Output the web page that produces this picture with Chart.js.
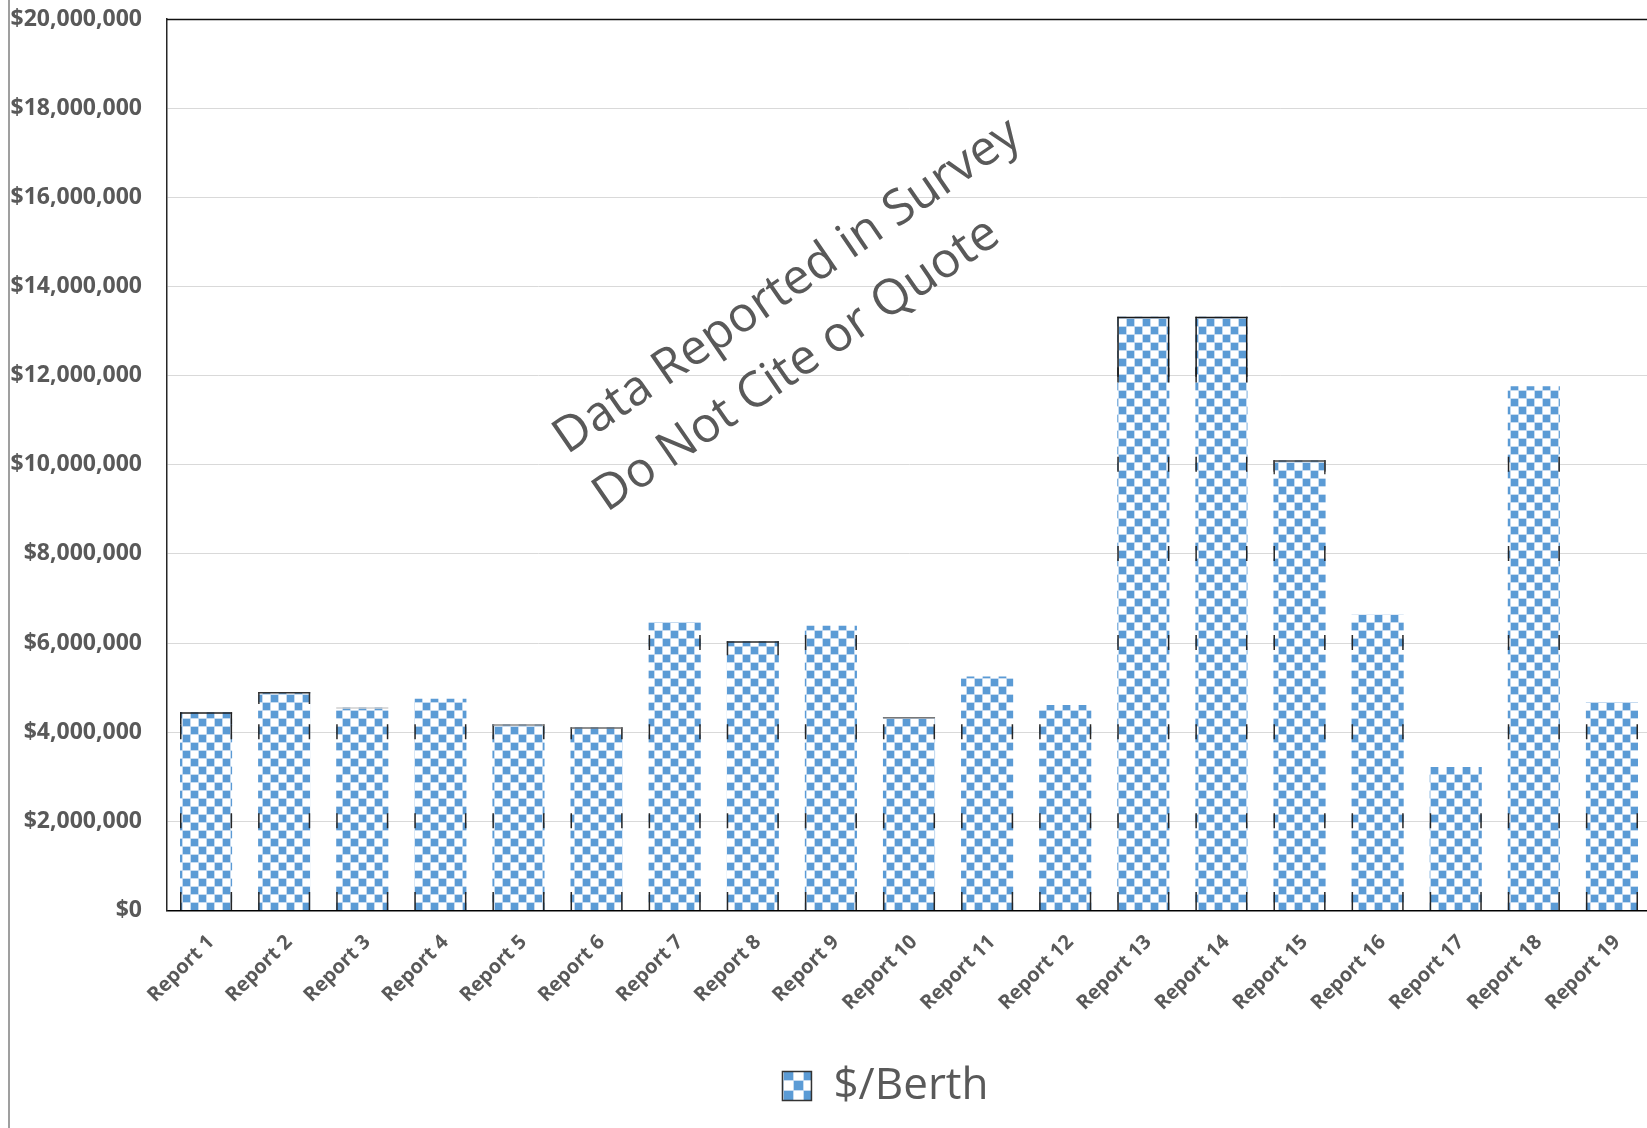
<!DOCTYPE html>
<html>
<head>
<meta charset="utf-8">
<script src="https://cdn.jsdelivr.net/npm/chart.js@4.4.1/dist/chart.umd.min.js"></script>
<style>
  html, body { margin: 0; padding: 0; background: #fff; overflow: hidden; }
  #wrap { position: relative; width: 1652px; height: 1128px; }
</style>
</head>
<body>
<div id="wrap"><canvas id="c" width="1652" height="1128"></canvas></div>
<script>
// ---- data ----
const categories = [
  'Report 1', 'Report 2', 'Report 3', 'Report 4', 'Report 5', 'Report 6', 'Report 7',
  'Report 8', 'Report 9', 'Report 10', 'Report 11', 'Report 12', 'Report 13', 'Report 14',
  'Report 15', 'Report 16', 'Report 17', 'Report 18', 'Report 19'
];
const berthCost = [
  4450000, 4900000, 4560000, 4750000, 4180000, 4110000, 6470000,
  6040000, 6390000, 4340000, 5250000, 4610000, 13320000, 13320000,
  10100000, 6640000, 3220000, 11760000, 4680000
];
const seriesName = '$/Berth';
const yMin = 0;
const yMax = 20000000;
const yStep = 2000000;
const watermarkLines = ['Data Reported in Survey', 'Do Not Cite or Quote'];

// ---- per-bar outline styling (top edge colour and how far its corners run down) ----
const topEdgeColor = ['#1f1f1f', '#333', '#cfcfcf', null, '#8a8a8a', '#6a6a6a', null,
  '#2a2a2a', null, '#777', null, null, '#1a1a1a', '#1a1a1a', '#444', null, null, null, null];
const topCornerRun = [12, 12, 0, 0, 0, 0, 0, 14, 0, 0, 0, 0, 60, 60, 14, 0, 0, 0, 0];

const canvas = document.getElementById('c');
const ctx = canvas.getContext('2d');

// checkerboard fill in the Office blue
function makeChecker(cell, ox, oy) {
  const size = cell * 2;
  const t = document.createElement('canvas');
  t.width = size; t.height = size;
  const g = t.getContext('2d');
  g.fillStyle = '#ffffff';
  g.fillRect(0, 0, size, size);
  g.fillStyle = '#c6dbf0';
  g.fillRect(0, cell - 1, size, 1);
  g.fillRect(0, size - 1, size, 1);
  g.fillRect(cell - 1, 0, 1, size);
  g.fillRect(size - 1, 0, 1, size);
  g.fillStyle = '#5b9bd5';
  g.fillRect(0, 0, cell - 1, cell - 1);
  g.fillRect(cell, cell, cell - 1, cell - 1);
  const p = ctx.createPattern(t, 'repeat');
  if (p.setTransform) p.setTransform(new DOMMatrix().translate(ox, oy));
  return p;
}
const barFill = makeChecker(8, 15, 7);
const legendFill = makeChecker(10, 784, 1071);

const FONT = "'Open Sans', 'Noto Sans', 'DejaVu Sans', sans-serif";
const TEXT_GREY = '#595959';

// background, outer frame line and plot-area top edge
const framePlugin = {
  id: 'frame',
  beforeDraw(chart) {
    const c = chart.ctx;
    c.save();
    c.fillStyle = '#ffffff';
    c.fillRect(0, 0, chart.width, chart.height);
    c.strokeStyle = '#7f7f7f';
    c.lineWidth = 1.5;
    c.beginPath();
    c.moveTo(9, 0);
    c.lineTo(9, chart.height);
    c.stroke();
    c.restore();
  },
  afterDraw(chart) {
    const a = chart.chartArea;
    const c = chart.ctx;
    c.save();
    c.strokeStyle = '#111';
    c.lineWidth = 1.3;
    c.beginPath();
    c.moveTo(a.left, a.top + 0.5);
    c.lineTo(a.right, a.top + 0.5);
    c.stroke();
    c.restore();
  }
};

// broken dark outline on the bars
const barEdgePlugin = {
  id: 'barEdges',
  afterDatasetsDraw(chart) {
    const c = chart.ctx;
    const ys = chart.scales.y;
    const grid = ys.ticks.map(t => ys.getPixelForValue(t.value));
    const meta = chart.getDatasetMeta(0);
    c.save();
    c.lineWidth = 1.5;
    meta.data.forEach((bar, i) => {
      const { x, y, base, width } = bar.getProps(['x', 'y', 'base', 'width'], true);
      const l = x - width / 2 + 0.75;
      const r = x + width / 2 - 0.75;
      const seg = (y0, y1, col) => {
        c.strokeStyle = col;
        c.beginPath();
        c.moveTo(l, y0); c.lineTo(l, y1);
        c.moveTo(r, y0); c.lineTo(r, y1);
        c.stroke();
      };
      grid.forEach(p => {
        if (p > y + 2 && p < base - 2) seg(Math.max(y, p - 8), Math.min(base, p + 7), '#262626');
      });
      seg(base - 18, base, '#262626');
      if (topEdgeColor[i]) {
        c.strokeStyle = topEdgeColor[i];
        c.beginPath();
        c.moveTo(l - 0.75, y + 0.75);
        c.lineTo(r + 0.75, y + 0.75);
        c.stroke();
        if (topCornerRun[i] > 0) seg(y, y + topCornerRun[i], topEdgeColor[i]);
      }
    });
    c.restore();
  }
};

// diagonal notice across the plot
const watermarkPlugin = {
  id: 'watermark',
  afterDraw(chart) {
    const c = chart.ctx;
    c.save();
    c.translate(567, 455);
    c.rotate(-34.5 * Math.PI / 180);
    c.fillStyle = TEXT_GREY;
    c.font = "49px " + FONT;
    c.textAlign = 'left';
    c.textBaseline = 'alphabetic';
    watermarkLines.forEach((line, k) => c.fillText(line, 0, k * 70));
    c.restore();
  }
};

// centre the legend entry under the bars
const legendShiftPlugin = {
  id: 'legendShift',
  afterLayout(chart) {
    const lg = chart.legend;
    if (!lg) return;
    lg.left += 60;
    lg.right += 60;
  }
};

new Chart(ctx, {
  type: 'bar',
  data: {
    labels: categories,
    datasets: [{
      label: seriesName,
      data: berthCost,
      backgroundColor: barFill,
      borderWidth: 0,
      categoryPercentage: 1.0,
      barPercentage: 0.667
    }]
  },
  options: {
    responsive: false,
    animation: false,
    devicePixelRatio: 1,
    layout: { padding: { left: 0, top: 19, right: 1, bottom: 10 } },
    scales: {
      x: {
        grid: { display: false, drawTicks: false },
        border: { display: true, color: '#000', width: 1.5 },
        ticks: {
          color: TEXT_GREY,
          font: { family: FONT, weight: 'bold', size: 20 },
          minRotation: 45,
          maxRotation: 45,
          autoSkip: false,
          padding: 20,
          labelOffset: 5
        },
        afterFit(s) { s.height = 143.5; }
      },
      y: {
        min: yMin,
        max: yMax,
        ticks: {
          stepSize: yStep,
          padding: 0,
          color: TEXT_GREY,
          font: { family: FONT, weight: 'bold', size: 23 },
          callback: v => '$' + Number(v).toLocaleString('en-US')
        },
        grid: { color: '#d9d9d9', lineWidth: 1, drawTicks: true, tickLength: 25, tickColor: 'rgba(0,0,0,0)' },
        border: { color: '#262626', width: 1.5 },
        afterFit(s) { s.width = 167; }
      }
    },
    plugins: {
      tooltip: { enabled: false },
      legend: {
        position: 'bottom',
        labels: {
          boxWidth: 29,
          boxHeight: 29,
          padding: 10,
          color: TEXT_GREY,
          font: { family: FONT, size: 44 },
          generateLabels(chart) {
            const items = Chart.defaults.plugins.legend.labels.generateLabels(chart);
            items.forEach(it => {
              it.fillStyle = legendFill;
              it.strokeStyle = '#333';
              it.lineWidth = 1.5;
            });
            return items;
          }
        }
      }
    }
  },
  plugins: [framePlugin, barEdgePlugin, watermarkPlugin, legendShiftPlugin]
});
</script>
</body>
</html>
